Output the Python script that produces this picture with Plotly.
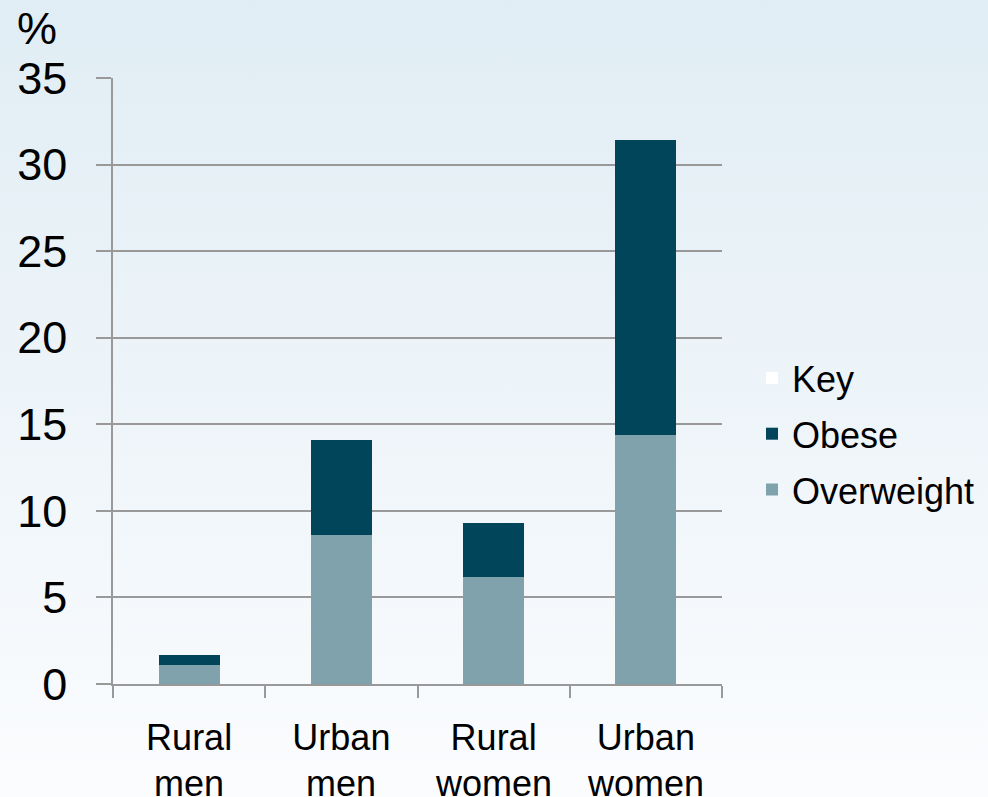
import base64
import plotly.graph_objects as go

categories = ["Rural men", "Urban men", "Rural women", "Urban women"]
label_line1 = ["Rural", "Urban", "Rural", "Urban"]
label_line2 = ["men", "men", "women", "women"]
overweight = [1.1, 8.6, 6.2, 14.4]
obese = [0.55, 5.5, 3.1, 17.0]
key = [0, 0, 0, 0]
y_ticks = [0, 5, 10, 15, 20, 25, 30, 35]

W, H = 988, 797
L, R, T, B = 113, 266, 78, 113
pw, ph = W - L - R, H - T - B

svg = ('<svg xmlns="http://www.w3.org/2000/svg" width="988" height="797" preserveAspectRatio="none">'
       '<defs><linearGradient id="g" x1="0" y1="0" x2="0" y2="1">'
       '<stop offset="0" stop-color="#e0edf4"/><stop offset="1" stop-color="#fbfcfe"/>'
       '</linearGradient></defs><rect width="988" height="797" fill="url(#g)"/></svg>')
src = "data:image/svg+xml;base64," + base64.b64encode(svg.encode()).decode()

fig = go.Figure()
fig.add_trace(go.Bar(x=categories, y=overweight, name="Overweight", legendgroup="a", legendrank=3,
                     marker=dict(color="#7fa2ad", line=dict(width=0))))
fig.add_trace(go.Bar(x=categories, y=obese, name="Obese", legendgroup="b", legendrank=2,
                     marker=dict(color="#00455a", line=dict(width=0))))
fig.add_trace(go.Bar(x=categories, y=key, name="Key", legendgroup="c", legendrank=1,
                     marker=dict(color="#ffffff", line=dict(width=0))))

annotations = [dict(text="%", xref="paper", yref="paper",
                    x=(15 - L) / pw, y=1 + (T - 1) / ph, xanchor="left", yanchor="top",
                    showarrow=False, font=dict(size=45))]
for cat, txt in zip(categories, label_line2):
    annotations.append(dict(text=txt, x=cat, xref="x", yref="paper",
                            y=-(761 - (H - B)) / ph, xanchor="center", yanchor="top",
                            showarrow=False, font=dict(size=36)))

fig.update_layout(
    width=W, height=H,
    margin=dict(l=L, r=R, t=T, b=B, autoexpand=False),
    barmode="stack", bargap=0.6,
    paper_bgcolor="white", plot_bgcolor="rgba(0,0,0,0)",
    font=dict(family="Liberation Sans, Arial, sans-serif", color="black"),
    images=[dict(source=src, xref="paper", yref="paper",
                 x=-L / pw, y=1 + T / ph, sizex=W / pw, sizey=H / ph,
                 xanchor="left", yanchor="top", sizing="stretch", layer="below")],
    legend=dict(x=(752 - L) / pw, y=(684 - 434) / ph, xanchor="left", yanchor="middle",
                traceorder="grouped", font=dict(size=36), itemsizing="constant",
                bgcolor="rgba(0,0,0,0)", tracegroupgap=6),
    xaxis=dict(showgrid=False, showline=True, linecolor="#999999", linewidth=2,
               ticks="outside", tickson="boundaries", ticklen=12, tickcolor="#999999",
               tickwidth=2, tickfont=dict(size=36), ticklabelstandoff=21, automargin=False,
               tickmode="array", tickvals=categories, ticktext=label_line1),
    yaxis=dict(range=[0, 35], tickvals=y_ticks, showgrid=True, gridcolor="#999999",
               gridwidth=1.5, showline=True, linecolor="#999999", linewidth=1.5,
               ticks="outside", ticklen=15, tickcolor="#999999", tickwidth=1.5,
               tickfont=dict(size=45), ticklabelstandoff=20, zeroline=False, automargin=False),
    annotations=annotations,
)

fig.write_html("out.html", config={"displayModeBar": False},
               post_script="document.body.style.margin='0';")
